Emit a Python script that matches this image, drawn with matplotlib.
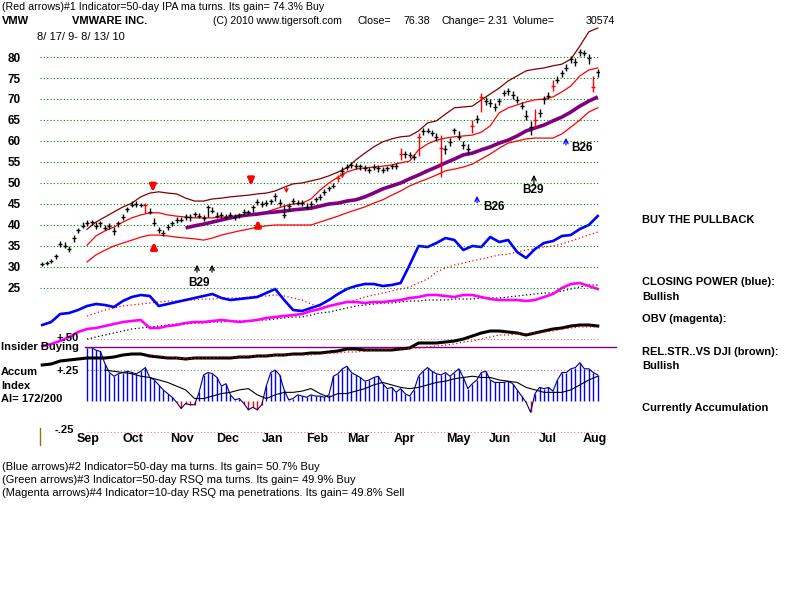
import numpy as np
import matplotlib
matplotlib.use('Agg')
import matplotlib.pyplot as plt
from matplotlib.lines import Line2D

plt.rcParams['font.family'] = ['Liberation Sans', 'DejaVu Sans']

# Kursdata, en stapel varannan handelsdag (8/17/09 - 8/13/10)
close = [30.7, 31.0, 31.5, 32.5, 35.5, 35.0, 34.2, 37.0, 38.8, 39.8,
         40.5, 40.7, 39.8, 40.4, 39.3, 39.8, 38.5, 40.5, 42.0, 43.8,
         44.8, 45.0, 44.8, 44.8, 43.2, 40.5, 38.8, 38.1, 39.6, 40.5,
         41.2, 41.2, 42.0, 41.9, 42.6, 42.2, 41.6, 44.2, 43.4, 42.2,
         42.4, 42.0, 42.4, 41.8, 42.3, 43.1, 43.0, 44.2, 45.4, 44.9,
         45.3, 45.6, 46.9, 45.2, 42.4, 44.5, 45.7, 45.3, 45.3, 44.4,
         45.0, 46.1, 46.7, 47.9, 48.7, 49.3, 51.2, 52.8, 53.8, 54.2,
         54.0, 54.0, 53.6, 53.2, 53.9, 53.6, 53.2, 53.5, 54.0, 54.0,
         57.0, 56.8, 56.7, 56.3, 61.0, 62.4, 62.4, 61.9, 60.9, 58.3,
         58.0, 59.8, 62.5, 61.0, 59.0, 58.0, 63.5, 65.3, 70.5, 69.6,
         69.0, 68.0, 69.5, 71.4, 71.8, 70.9, 69.8, 68.4, 66.0, 63.4,
         65.0, 66.7, 69.9, 70.8, 73.2, 74.6, 76.1, 77.5, 79.5, 78.8,
         81.2, 81.0, 79.8, 72.9, 76.4]
high = [31.2, 31.5, 32.0, 33.2, 36.3, 36.0, 35.0, 37.6, 39.4, 40.6,
        41.3, 41.2, 40.7, 41.0, 40.1, 40.4, 39.6, 41.0, 42.5, 44.4,
        45.6, 45.6, 45.3, 45.2, 44.0, 41.6, 39.6, 38.9, 40.2, 41.0,
        41.8, 41.9, 42.6, 42.5, 43.2, 42.8, 42.3, 44.7, 44.2, 43.0,
        43.0, 42.7, 43.0, 42.5, 42.9, 43.7, 43.6, 44.8, 46.2, 45.6,
        45.9, 46.2, 47.7, 46.2, 44.8, 45.2, 46.4, 46.0, 45.9, 45.2,
        45.6, 46.7, 47.3, 48.5, 49.3, 49.9, 52.0, 53.8, 54.6, 54.9,
        54.7, 54.6, 54.3, 53.9, 54.5, 54.2, 53.9, 54.1, 54.6, 54.7,
        58.3, 57.5, 57.3, 57.0, 61.9, 63.2, 63.2, 62.6, 61.8, 61.4,
        59.0, 60.6, 63.2, 62.4, 60.0, 59.2, 65.0, 66.1, 71.5, 70.5,
        70.0, 69.0, 70.2, 72.2, 72.6, 71.8, 70.8, 69.4, 67.3, 64.8,
        67.5, 67.5, 70.6, 71.6, 74.5, 75.4, 76.9, 78.4, 80.2, 79.8,
        81.9, 81.7, 80.8, 75.5, 77.2]
low = [30.2, 30.5, 31.0, 31.8, 34.8, 34.5, 33.6, 35.9, 38.0, 39.2,
       39.8, 40.0, 39.1, 39.6, 38.7, 39.0, 37.5, 39.6, 41.2, 43.0,
       44.2, 44.4, 44.2, 42.9, 42.6, 39.8, 38.0, 37.4, 38.8, 39.8,
       40.5, 40.6, 41.3, 41.0, 41.9, 41.6, 40.9, 42.0, 42.8, 41.6,
       41.7, 41.4, 41.8, 41.1, 41.6, 42.4, 42.3, 43.2, 44.8, 44.2,
       44.6, 44.9, 45.8, 44.6, 41.6, 43.4, 45.0, 44.7, 44.6, 43.8,
       44.3, 45.4, 46.0, 47.2, 48.1, 48.7, 50.2, 52.0, 53.0, 53.5,
       53.3, 53.2, 52.8, 52.4, 53.1, 52.6, 52.3, 52.8, 53.3, 53.4,
       55.5, 56.0, 55.9, 55.4, 56.4, 61.5, 61.8, 61.1, 60.1, 51.4,
       56.8, 58.9, 61.6, 60.2, 58.2, 57.0, 61.9, 64.4, 67.0, 68.5,
       68.1, 67.1, 68.6, 70.6, 71.0, 70.0, 69.0, 67.5, 65.0, 61.4,
       63.0, 65.8, 68.8, 70.0, 72.0, 73.7, 75.2, 76.6, 78.5, 77.9,
       80.3, 80.2, 78.4, 71.7, 75.3]
red_bars = [23, 66, 80, 84, 89, 96, 98, 110, 114, 123]

# Band och glidande medel, var fjärde handelsdag
upper_band = [39.0, 40.7, 41.9, 43.1, 44.3, 45.2, 46.7, 47.6, 47.9, 47.6,
              47.4, 46.4, 45.7, 45.7, 46.2, 46.4, 46.7, 46.9, 47.1, 47.4,
              47.6, 48.1, 49.0, 49.8, 50.0, 50.5, 51.0, 51.7, 52.6, 53.6,
              55.5, 57.1, 58.6, 59.8, 60.5, 61.0, 61.2, 62.4, 64.3, 64.8,
              66.4, 67.9, 68.1, 68.3, 69.8, 71.2, 72.6, 74.3, 75.5, 76.7,
              77.1, 77.4, 77.9, 78.3, 79.5, 82.6, 86.0, 86.9]
mid_band = [35.2, 37.4, 38.6, 39.5, 40.7, 41.7, 42.4, 42.9, 42.9, 42.4,
            42.1, 41.9, 41.7, 41.7, 41.7, 41.9, 41.9, 42.1, 42.4, 42.4,
            43.1, 43.8, 44.5, 45.0, 45.2, 46.2, 48.3, 50.0, 51.4, 52.6,
            53.3, 53.6, 53.8, 54.0, 54.3, 54.8, 55.2, 57.9, 59.3, 60.2,
            60.7, 61.0, 61.2, 61.4, 62.1, 63.6, 66.7, 67.9, 68.6, 69.3,
            69.8, 70.0, 70.5, 71.7, 73.1, 75.5, 76.9, 77.4]
lower_band = [31.2, 32.9, 34.0, 35.0, 35.7, 36.4, 37.1, 37.6, 37.6, 37.4,
              37.1, 36.9, 36.7, 36.4, 36.9, 37.6, 38.1, 38.6, 39.0, 39.5,
              39.8, 40.0, 40.0, 40.0, 40.0, 40.0, 40.7, 41.4, 42.1, 42.9,
              43.6, 44.3, 45.2, 46.0, 47.1, 48.1, 49.3, 50.2, 51.0, 51.9,
              52.9, 53.3, 53.8, 54.5, 55.7, 56.9, 58.3, 59.5, 60.0, 60.5,
              60.7, 60.7, 60.7, 61.7, 63.3, 65.0, 66.9, 67.9]
ma_long = [39.3, 39.8, 40.2, 40.7, 41.2, 41.7, 42.1, 42.4, 42.6, 42.9,
           43.1, 43.3, 43.6, 43.8, 44.0, 44.5, 45.0, 45.2, 45.7, 46.0,
           46.7, 47.6, 48.6, 49.3, 50.0, 51.0, 51.9, 52.9, 53.8, 54.8,
           55.7, 56.7, 57.1, 57.9, 58.6, 59.5, 60.2, 61.2, 62.4, 63.1,
           63.8, 64.8, 65.7, 66.9, 68.3, 69.5, 70.5]

# Indikatorer (godtycklig skala)
closing_power = [55, 58, 66, 67, 70, 74, 76, 75, 73, 79,
                 83, 85, 84, 74, 76, 78, 80, 82, 84, 86,
                 82, 80, 81, 82, 83, 87, 91, 80, 70, 69,
                 72, 75, 80, 86, 91, 94, 96, 96, 94, 95,
                 97, 115, 134, 133, 137, 142, 140, 130, 134, 133,
                 143, 138, 140, 128, 122, 131, 137, 139, 144, 145,
                 151, 155, 164]
cp_ma = [64, 67, 70, 72, 74, 75, 76, 77, 78, 79,
         79, 80, 80, 81, 81, 82, 82, 82, 83, 84,
         84, 85, 84, 82, 80, 76, 73, 74, 76, 78,
         80, 83, 85, 87, 89, 91, 93, 97, 101, 108,
         112, 115, 117, 119, 121, 123, 125, 126, 128, 130,
         131, 133, 134, 136, 139, 142, 145, 148]
obv = [34, 36, 39, 43, 48, 51, 52, 54, 56, 58,
       59, 60, 52, 52, 54, 55, 57, 58, 58, 59,
       60, 59, 58, 59, 60, 62, 63, 64, 65, 66,
       69, 71, 74, 76, 78, 78, 77, 78, 78, 79,
       80, 82, 83, 85, 85, 84, 83, 85, 85, 83,
       81, 80, 80, 80, 79, 80, 83, 86, 92, 96,
       97, 94, 91]
obv_ma = [41, 43, 45, 47, 49, 51, 52, 53, 54, 55,
          56, 56, 57, 57, 58, 58, 59, 59, 59, 60,
          60, 61, 62, 63, 63, 65, 67, 68, 70, 72,
          74, 75, 76, 77, 77, 78, 79, 79, 80, 80,
          80, 81, 81, 81, 82, 82, 82, 83, 84, 85,
          86, 87, 87, 89, 91, 93, 95, 95]
rel_str = [15, 16, 19, 20, 21, 22, 22, 22, 23, 25,
           26, 26, 24, 23, 22, 22, 21, 22, 22, 22,
           22, 22, 23, 23, 24, 24, 25, 25, 26, 26,
           27, 27, 28, 29, 31, 31, 30, 30, 30, 30,
           31, 32, 37, 37, 37, 38, 39, 41, 44, 47,
           49, 49, 48, 47, 45, 47, 49, 51, 52, 54,
           55, 55, 54]
rs_ma = [25, 24, 23, 22, 21, 22, 22, 22, 23, 23,
         23, 24, 24, 24, 25, 25, 25, 25, 25, 26,
         27, 27, 28, 28, 29, 30, 30, 31, 31, 32,
         32, 33, 34, 35, 36, 38, 39, 41, 43, 45,
         45, 46, 46, 47, 48, 49, 51, 52, 53, 53,
         53]
accum = [0.43, 0.43, 0.41, 0.40, 0.30, 0.23, 0.20, 0.22, 0.23, 0.24,
         0.23, 0.22, 0.24, 0.27, 0.19, 0.17, 0.13, 0.09, 0.06, 0.03,
         -0.01, -0.06, -0.02, -0.03, -0.03, 0.07, 0.21, 0.23, 0.22, 0.19,
         0.12, 0.14, 0.05, 0.01, 0.02, -0.02, -0.07, -0.05, -0.07, -0.03,
         0.12, 0.23, 0.25, 0.21, 0.09, 0.01, 0.02, 0.05, 0.04, 0.03,
         0.05, 0.04, 0.04, 0.03, 0.05, 0.20, 0.22, 0.26, 0.28, 0.23,
         0.21, 0.19, 0.16, 0.17, 0.19, 0.20, 0.14, 0.10, 0.11, 0.07,
         0.10, 0.06, 0.04, 0.09, 0.20, 0.24, 0.27, 0.24, 0.22, 0.21,
         0.23, 0.20, 0.23, 0.26, 0.19, 0.10, 0.14, 0.17, 0.23, 0.24,
         0.17, 0.15, 0.15, 0.15, 0.16, 0.14, 0.09, 0.04, -0.01, -0.09,
         0.06, 0.11, 0.10, 0.11, 0.08, 0.17, 0.23, 0.23, 0.26, 0.27,
         0.31, 0.26, 0.26, 0.23, 0.21]
accum_ma = [0.25, 0.24, 0.23, 0.22, 0.20, 0.19, 0.17, 0.15, 0.12, 0.09,
            0.02, 0.02, 0.04, 0.06, 0.07, 0.09, 0.10, 0.05, 0.02, 0.05,
            0.07, 0.07, 0.08, 0.10, 0.06, 0.03, 0.06, 0.06, 0.08, 0.10,
            0.13, 0.15, 0.13, 0.11, 0.10, 0.11, 0.13, 0.15, 0.16, 0.18,
            0.19, 0.20, 0.19, 0.19, 0.17, 0.16, 0.15, 0.11, 0.09, 0.07,
            0.07, 0.07, 0.09, 0.13, 0.17, 0.20]
insider_level = 0.435

months = ['Sep', 'Oct', 'Nov', 'Dec', 'Jan', 'Feb', 'Mar', 'Apr', 'May', 'Jun', 'Jul', 'Aug']
month_day = [21.4, 41.5, 63.4, 83.9, 104.0, 123.7, 142.0, 162.9, 186.6, 205.4, 226.8, 247.8]
price_ticks = [25, 30, 35, 40, 45, 50, 55, 60, 65, 70, 75, 80]

# Signalpilar: (dag, från, till)
red_big = [(50.4, 50.2, 47.3), (94.2, 51.4, 48.8), (50.9, 33.4, 36.6), (97.3, 38.6, 41.9)]
red_thin = [(110.0, 49.5, 46.9), (135.0, 52.4, 50.4)]
b_signals = [('B29', 70.1, 28.1, 31.2, 'black'), ('B29', 76.8, 28.1, 31.2, 'black'),
             ('B26', 195.1, 44.6, 47.6, 'blue'), ('B29', 220.5, 48.8, 52.6, 'black'),
             ('B26', 234.8, 58.4, 61.4, 'blue')]
b_labels = [('B29', 71.0, 26.2), ('B26', 202.7, 44.3), ('B29', 220.1, 48.3), ('B26', 242.0, 58.3)]

bar_day = 1 + 2 * np.arange(len(close))
grid_day = 1 + 4 * np.arange(len(closing_power))

fig = plt.figure(figsize=(8, 6), dpi=100)
fig.patch.set_facecolor('white')

def place(px, py, w, h):
    return [px / 800, 1 - (py + h) / 600, w / 800, h / 600]

ax_ai = fig.add_axes(place(40, 330, 560, 103))
ax_ind = fig.add_axes(place(40, 200, 560, 180))
ax = fig.add_axes(place(40, 25, 560, 275))
for a in (ax_ai, ax_ind, ax):
    a.set_xlim(0, 250)
    a.patch.set_visible(False)
    for s in a.spines.values():
        s.set_visible(False)
    a.tick_params(length=0)
    a.set_xticks([])
    a.set_yticks([])

dot = (0, (1, 2))

# --- Pris ---
ax.set_ylim(22.14, 87.62)
for y in price_ticks:
    ax.axhline(y, color='#008000', lw=0.8, ls=dot, zorder=1)
ax.set_yticks(price_ticks)
ax.set_yticklabels([str(t) for t in price_ticks], fontsize=8.5, fontweight='bold')
ax.tick_params(axis='y', pad=14)

ax.plot(grid_day[5:], upper_band, color='#800000', lw=0.9, zorder=2)
ax.plot(grid_day[5:], mid_band, color='#ff0000', lw=0.9, zorder=2)
ax.plot(grid_day[5:], lower_band, color='#ff0000', lw=0.9, zorder=2)
ax.plot(grid_day[16:], ma_long, color='#800080', lw=2.6, zorder=3, solid_capstyle='butt')

cols = ['#ff0000' if k in red_bars else 'black' for k in range(len(close))]
ax.vlines(bar_day, low, high, colors=cols, lw=1, zorder=4)
ax.hlines(close, bar_day - 0.9, bar_day + 0.9, colors=cols, lw=1, zorder=4)

for d, y0, y1 in red_big:
    ax.annotate('', xy=(d, y1), xytext=(d, y0),
                arrowprops=dict(arrowstyle='-|>', color='#ff0000', lw=2.2, mutation_scale=9), zorder=5)
for d, y0, y1 in red_thin:
    ax.annotate('', xy=(d, y1), xytext=(d, y0),
                arrowprops=dict(arrowstyle='->', color='#ff0000', lw=0.9, mutation_scale=6), zorder=5)
for name, d, y0, y1, c in b_signals:
    ax.annotate('', xy=(d, y1), xytext=(d, y0),
                arrowprops=dict(arrowstyle='->', color=c, lw=0.9, mutation_scale=8))
for name, d, y in b_labels:
    ax.text(d, y, name, fontsize=8.5, fontweight='bold', ha='center', va='center')

# --- Indikatorer ---
ax_ind.set_ylim(0, 180)
ax_ind.plot(grid_day[5:], cp_ma, color='#ff0000', lw=0.9, ls=dot)
ax_ind.plot(grid_day[5:], obv_ma, color='black', lw=0.9, ls=dot)
ax_ind.plot(grid_day[12:], rs_ma, color='#ff0000', lw=0.9, ls=dot, zorder=3)
ax_ind.plot(grid_day, closing_power, color='#0000ff', lw=1.9)
ax_ind.plot(grid_day, obv, color='#ff00ff', lw=1.9)
ax_ind.plot(grid_day, rel_str, color='black', lw=2.2, zorder=2)

# --- Accumulation Index ---
ax_ai.set_ylim(-0.258, 0.573)
ai_day = bar_day[10:]
ax_ai.hlines([0.5], ai_day[0], 250, colors='#b080a0', lw=0.8, linestyles=dot)
ax_ai.hlines([0.25], ai_day[0], 250, colors='#808080', lw=0.8, linestyles=dot)
ax_ai.hlines([-0.25], ai_day[0], 250, colors='#e070a0', lw=0.8, linestyles=dot)
acol = ['#0000ff' if v >= 0 else '#ff0000' for v in accum]
ax_ai.vlines(ai_day, 0, accum, colors=acol, lw=1)
ax_ai.plot(ai_day, accum, color='#000080', lw=0.8)
ax_ai.plot(grid_day[7:], accum_ma, color='black', lw=0.8)
ax_ai.plot([ai_day[0] - 1, 257], [insider_level, insider_level], color='#800080', lw=1, clip_on=False)
ax_ai.set_xticks(month_day)
ax_ai.set_xticklabels(months, fontsize=9, fontweight='bold')
ax_ai.tick_params(axis='x', pad=0)

def ftext(px, py, s, **kw):
    kw.setdefault('fontsize', 8)
    fig.text(px / 800, 1 - py / 600, s, va='center', ha='left', **kw)

ftext(2, 7, '(Red arrows)#1 Indicator=50-day IPA ma turns. Its gain= 74.3% Buy', fontsize=7.7)
ftext(2, 21, 'VMW', fontweight='bold')
ftext(72, 21, 'VMWARE INC.', fontweight='bold')
ftext(213, 21, '(C) 2010 www.tigersoft.com', fontsize=7.6)
ftext(358, 21, 'Close=', fontsize=7.7)
ftext(403, 21, '76.38', fontsize=7.7)
ftext(441, 21, 'Change=', fontsize=7.7)
ftext(487, 21, '2.31', fontsize=7.7)
ftext(513, 21, 'Volume=', fontsize=7.7)
ftext(586, 21, '30574', fontsize=7.7)
ftext(37, 37, '8/ 17/ 9- 8/ 13/ 10')

ftext(57, 338, '+.50', fontweight='bold')
ftext(1, 347, 'Insider Buying', fontweight='bold')
ftext(57, 371, '+.25', fontweight='bold')
ftext(1, 372, 'Accum', fontweight='bold')
ftext(1, 386, 'Index', fontweight='bold')
ftext(1, 399, 'AI= 172/200', fontweight='bold')
ftext(55, 430, '-.25', fontweight='bold')
fig.add_artist(Line2D([40 / 800, 40 / 800], [1 - 428 / 600, 1 - 445 / 600], color='#808000', lw=1))

ftext(642, 220, 'BUY THE PULLBACK', fontweight='bold')
ftext(642, 282, 'CLOSING POWER (blue):', fontweight='bold')
ftext(642, 297, 'Bullish', fontweight='bold')
ftext(642, 319, 'OBV (magenta):', fontweight='bold')
ftext(642, 352, 'REL.STR..VS DJI (brown):', fontweight='bold')
ftext(642, 366, 'Bullish', fontweight='bold')
ftext(642, 408, 'Currently Accumulation', fontweight='bold')

ftext(2, 467, '(Blue arrows)#2 Indicator=50-day ma turns. Its gain= 50.7% Buy')
ftext(2, 480, '(Green arrows)#3 Indicator=50-day RSQ ma turns. Its gain= 49.9% Buy')
ftext(2, 493, '(Magenta arrows)#4 Indicator=10-day RSQ ma penetrations. Its gain= 49.8% Sell')

fig.savefig('out.png', dpi=100)
